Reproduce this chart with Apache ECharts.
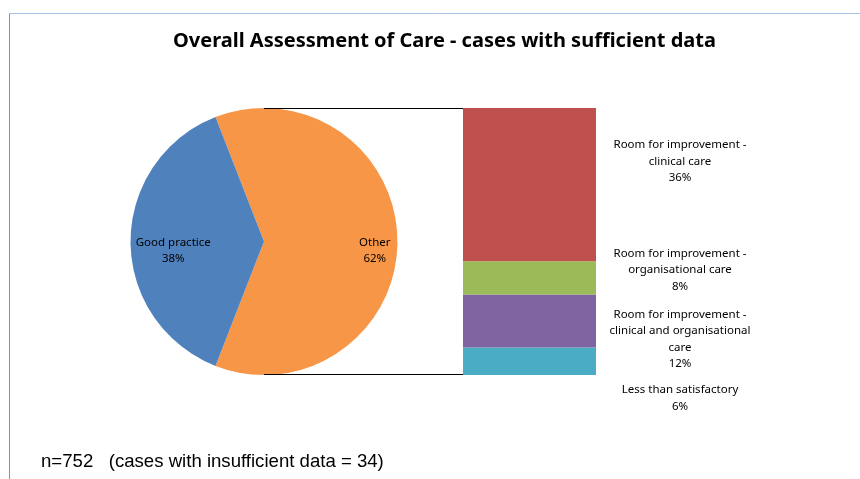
<!DOCTYPE html>
<html>
<head>
<meta charset="utf-8">
<script src="https://cdn.jsdelivr.net/npm/echarts@6/dist/echarts.min.js"></script>
<style>
  html, body { margin: 0; padding: 0; background: #fff; }
  #main { width: 860px; height: 479px; }
</style>
</head>
<body>
<div id="main"></div>
<script>
// pie data (case counts, n = 752)
const pieNames = ["Other", "Good practice"];
const pieValues = [465, 287];
// breakdown of "Other" (bottom to top in the stack)
const barNames = [
  "Less than satisfactory",
  "Room for improvement -\nclinical and organisational\ncare",
  "Room for improvement -\norganisational care",
  "Room for improvement -\nclinical care"
];
const barValues = [48, 92, 58, 267];
const barColors = ["#4BACC6", "#8064A2", "#9BBB59", "#C0504D"];
const pieColors = ["#F79646", "#4F81BD"];

// layout
const cx = 264, cy = 241.5, r = 133.5;
const barLeft = 463, barWidth = 133;
const total = pieValues[0] + pieValues[1];
const otherAngle = pieValues[0] / total * 360;

const chartDom = document.getElementById("main");
const myChart = echarts.init(chartDom);

// label shifts so the text sits like the original
const labelDy = [37, 18, -8, -23];
const pct = (v) => Math.round(v / total * 100) + "%";

const option = {
  animation: false,
  title: {
    text: "Overall Assessment of Care - cases with sufficient data",
    left: 168,
    top: 26,
    textStyle: { fontFamily: "Noto Sans", fontWeight: "bold", fontSize: 20, color: "#000" }
  },
  grid: { left: barLeft, width: barWidth, top: cy - r, height: 2 * r },
  xAxis: { type: "category", data: ["Other"], show: false },
  yAxis: { type: "value", min: 0, max: pieValues[0], show: false },
  graphic: [
    // chart frame
    { type: "line", shape: { x1: 9.5, y1: 13, x2: 9.5, y2: 479 },
      style: { stroke: "#6E96CF", lineWidth: 1 }, silent: true },
    { type: "line", shape: { x1: 9, y1: 13.5, x2: 860, y2: 13.5 },
      style: { stroke: "#A7C0E3", lineWidth: 1 }, silent: true },
    // connector lines between pie and bar
    { type: "line", shape: { x1: cx, y1: Math.round(cy - r) + 0.5, x2: barLeft, y2: Math.round(cy - r) + 0.5 },
      style: { stroke: "#000", lineWidth: 1 }, z: 10 },
    { type: "line", shape: { x1: cx, y1: Math.round(cy + r) - 0.5, x2: barLeft, y2: Math.round(cy + r) - 0.5 },
      style: { stroke: "#000", lineWidth: 1 }, z: 10 },
    // footnote
    { type: "text", left: 41, top: 452,
      style: { text: "n=752   (cases with insufficient data = 34)", font: "18.6px 'Liberation Sans'", fill: "#000" } }
  ],
  series: [
    {
      type: "pie",
      center: [cx, cy],
      radius: r,
      startAngle: otherAngle / 2,
      clockwise: true,
      data: pieNames.map((n, i) => ({ name: n, value: pieValues[i], itemStyle: { color: pieColors[i] } })),
      label: {
        position: "inside",
        formatter: (p) => p.name + "\n" + Math.round(p.percent) + "%",
        fontFamily: "Noto Sans",
        fontSize: 11.5,
        lineHeight: 16,
        color: "#000"
      },
      labelLayout: (p) => ({ dx: p.dataIndex === 0 ? 41 : -21, dy: 9 }),
      emphasis: { disabled: true }
    },
    ...barValues.map((v, i) => ({
      type: "bar",
      name: barNames[i],
      stack: "other",
      barWidth: "100%",
      data: [v],
      itemStyle: { color: barColors[i] },
      label: {
        show: true,
        position: "right",
        distance: 0,
        align: "center",
        offset: [84, labelDy[i]],
        formatter: barNames[i] + "\n" + pct(v),
        fontFamily: "Noto Sans",
        fontSize: 11.5,
        lineHeight: 16.5,
        color: "#000"
      },
      emphasis: { disabled: true }
    }))
  ]
};
option && myChart.setOption(option);
</script>
</body>
</html>
